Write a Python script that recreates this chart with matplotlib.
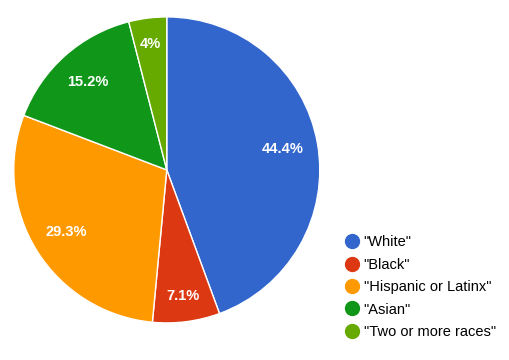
import matplotlib.pyplot as plt
from matplotlib.lines import Line2D
import numpy as np

plt.rcParams['font.family'] = ['Liberation Sans', 'DejaVu Sans']

# dane
labels = ['"White"', '"Black"', '"Hispanic or Latinx"', '"Asian"', '"Two or more races"']
values = [44.4, 7.1, 29.3, 15.2, 4.0]
pct_text = ['44.4%', '7.1%', '29.3%', '15.2%', '4%']
colors = ['#3366CC', '#DC3912', '#FF9900', '#109618', '#66AA00']

fig = plt.figure(figsize=(5.1, 3.6), dpi=100)
ax = fig.add_axes([0.027, 0.103, 0.6, 0.85])

wedges, _ = ax.pie(values, colors=colors, startangle=90, counterclock=False,
                   wedgeprops=dict(edgecolor='white', linewidth=1))
ax.set_xlim(-1, 1)
ax.set_ylim(-1, 1)
ax.set_aspect('equal')

# etykiety procentowe w środku wycinków
for w, t, v in zip(wedges, pct_text, values):
    ang = np.deg2rad((w.theta1 + w.theta2) / 2)
    r = 0.77 if v > 10 else 0.83
    ax.text(r * np.cos(ang), r * np.sin(ang), t, color='white', fontsize=10.5,
            ha='center', va='center', fontweight='bold')

handles = [Line2D([], [], marker='o', linestyle='', markersize=10,
                  markerfacecolor=c, markeredgecolor=c) for c in colors]
fig.legend(handles, labels, loc='upper left', bbox_to_anchor=(0.657, 0.363),
           frameon=False, fontsize=10.5, labelspacing=0.58, handletextpad=0.05,
           handlelength=1.5, borderaxespad=0)

plt.savefig('out.png', dpi=100)
plt.close()
